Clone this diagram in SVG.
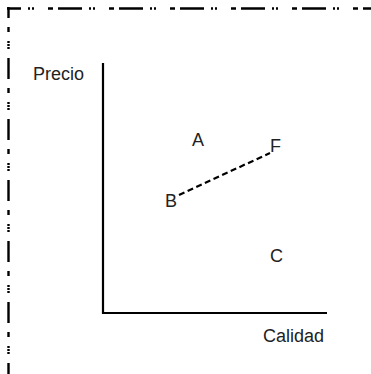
<svg xmlns="http://www.w3.org/2000/svg" width="371" height="374" viewBox="0 0 371 374">
<style>
.lbl{font-family:"Liberation Sans",Arial,sans-serif;font-size:18px;fill:#222}
.axis{stroke:#000;stroke-width:2.2;fill:none}
.frame{stroke:#000;stroke-width:2.4;fill:none}
</style>
<rect width="371" height="374" fill="#fff"/>
<g id="frame">
<path class="frame" d="M7,8.5 H371" stroke-dasharray="24 7 2 2 2 14 5 5" stroke-dashoffset="10"/>
<path class="frame" d="M8.5,7 V374" stroke-dasharray="21 9 5 9 2 1 2 1 2 9" stroke-dashoffset="10"/>
</g>
<g id="axes">
<path class="axis" d="M103,63 V313 H327"/>
</g>
<g id="connectors">
<path d="M179,195 L270,153" stroke="#000" stroke-width="2.2" stroke-dasharray="6 3.5" fill="none"/>
</g>
<g id="label-precio"><text class="lbl" x="33" y="80">Precio</text></g>
<g id="label-calidad"><text class="lbl" x="263" y="342">Calidad</text></g>
<g id="node-A"><text class="lbl" x="192" y="146">A</text></g>
<g id="node-F"><text class="lbl" x="270" y="152">F</text></g>
<g id="node-B"><text class="lbl" x="165" y="207">B</text></g>
<g id="node-C"><text class="lbl" x="270" y="262">C</text></g>
</svg>
